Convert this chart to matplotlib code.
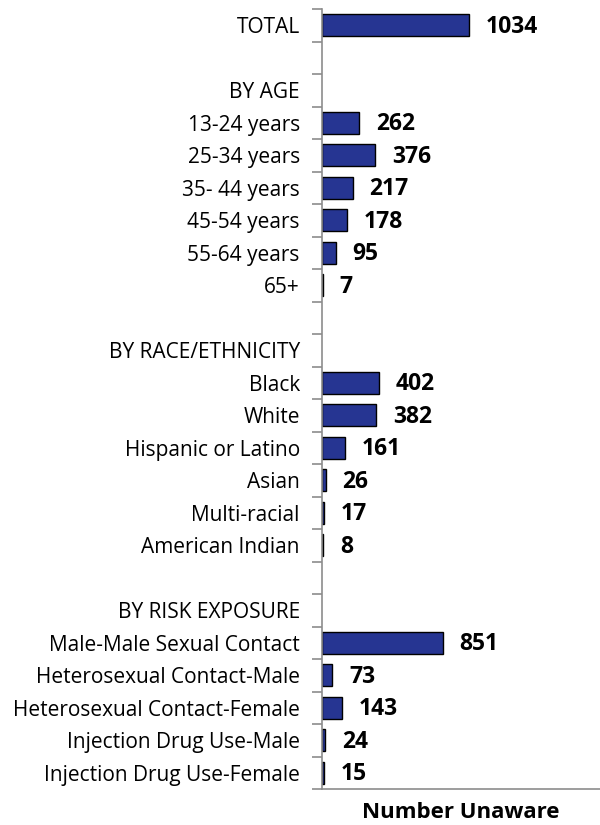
import matplotlib
matplotlib.use("Agg")
import matplotlib.pyplot as plt
import numpy as np

plt.rcParams['font.family'] = ['Open Sans', 'DejaVu Sans']

categories = [
    "TOTAL", "", "BY AGE",
    "13-24 years", "25-34 years", "35- 44 years", "45-54 years", "55-64 years", "65+",
    "", "BY RACE/ETHNICITY",
    "Black", "White", "Hispanic or Latino", "Asian", "Multi-racial", "American Indian",
    "", "BY RISK EXPOSURE",
    "Male-Male Sexual Contact", "Heterosexual Contact-Male", "Heterosexual Contact-Female",
    "Injection Drug Use-Male", "Injection Drug Use-Female",
]
values = [
    1034, None, None,
    262, 376, 217, 178, 95, 7,
    None, None,
    402, 382, 161, 26, 17, 8,
    None, None,
    851, 73, 143, 24, 15,
]
x_label = "Number Unaware"

fig = plt.figure(figsize=(6, 8.25), dpi=100)
ax = fig.add_axes([322/600, 1 - 789/825, 1 - 322/600, (789 - 9)/825])

n = len(categories)
ypos = np.arange(n)
for y, v in zip(ypos, values):
    if v is None:
        continue
    ax.barh(y, v, height=0.68, color="#263592", edgecolor="black", linewidth=1)
    ax.annotate(str(v), xy=(v, y), xytext=(12, -1), textcoords="offset points",
                va="center", ha="left", fontsize=16.5, fontweight="bold", color="black")

ax.set_ylim(n - 0.5, -0.5)
ax.set_xlim(0, 1955)

# boundary ticks (major), labels at centers (minor)
ax.set_yticks(np.arange(n + 1) - 0.5)
ax.set_yticklabels([])
ax.set_yticks(ypos, minor=True)
ax.set_yticklabels(categories, minor=True, fontsize=15)
ax.tick_params(axis="y", which="major", length=7, width=1.2, color="#8c8c8c", direction="out")
ax.tick_params(axis="y", which="minor", length=0, pad=16)
ax.set_xticks([])

for s in ["top", "right"]:
    ax.spines[s].set_visible(False)
for s in ["left", "bottom"]:
    ax.spines[s].set_color("#8c8c8c")
    ax.spines[s].set_linewidth(1.2)

ax.set_xlabel(x_label, fontsize=16, fontweight="bold", labelpad=9)

fig.savefig("out.png", dpi=100)
